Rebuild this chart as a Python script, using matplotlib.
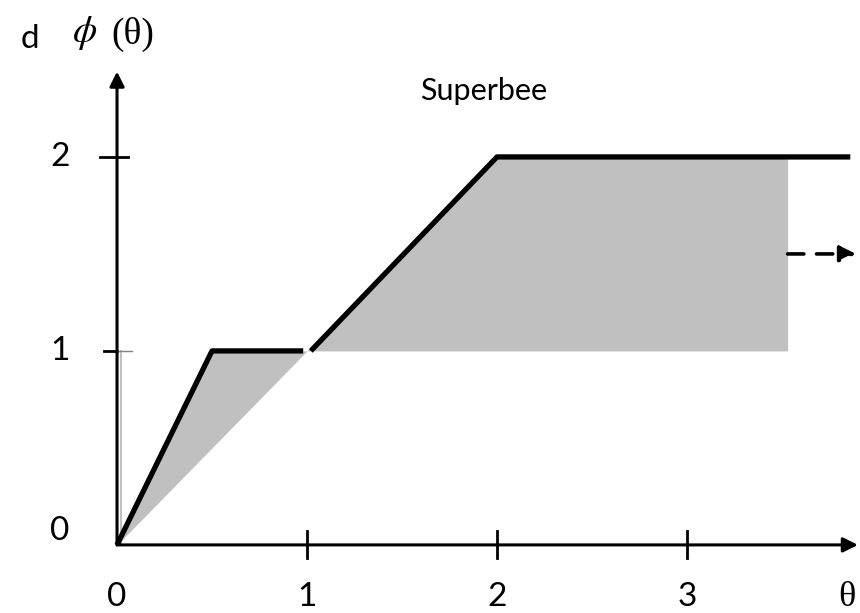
import matplotlib.pyplot as plt
import numpy as np

# superbee limiter, drawn as two pieces with a small gap at theta = 1
theta_a = [0, 0.5, 0.98]
phi_a = [0, 1, 1]
theta_b = [1.02, 2, 3.86]
phi_b = [1, 2, 2]

# shaded TVD region: between lower bound and superbee
shade_theta = [0, 0.5, 1, 2, 3.53]
shade_low = [0, 0.5, 1, 1, 1]
shade_high = [0, 1, 1, 2, 2]

xticks = [1, 2, 3]
xlabels = ['0', '1', '2', '3']
ylabels = ['0', '1', '2']

plt.rcParams['mathtext.fontset'] = 'stix'

fig = plt.figure(figsize=(8.6, 6.13), dpi=100)
ax = fig.add_axes([0, 0, 1, 1])
ax.set_xlim(-0.616, 3.911)
ax.set_ylim(-0.351, 2.809)
ax.axis('off')

ax.fill_between(shade_theta, shade_low, shade_high, color='#c0c0c0', lw=0)
ax.plot([0.02, 0.02], [0, 1], color='#c0c0c0', lw=1.5)

# axes with arrow heads
ax.annotate('', xy=(3.90, 0), xytext=(0, 0), annotation_clip=False,
            arrowprops=dict(arrowstyle='-|>', color='black', lw=2.2, mutation_scale=22,
                            shrinkA=0, shrinkB=0))
ax.annotate('', xy=(0, 2.44), xytext=(0, 0), annotation_clip=False,
            arrowprops=dict(arrowstyle='-|>', color='black', lw=2.2, mutation_scale=22,
                            shrinkA=0, shrinkB=0))

ax.plot(theta_a, phi_a, color='black', lw=3.8, solid_capstyle='butt')
ax.plot(theta_b, phi_b, color='black', lw=3.8, solid_capstyle='butt')

# ticks
for t in xticks:
    ax.plot([t, t], [-0.07, 0.07], color='black', lw=2)
ax.plot([-0.09, 0.06], [2, 2], color='black', lw=2)
ax.plot([-0.07, 0], [1, 1], color='black', lw=2)
ax.plot([0, 0.08], [1, 1], color='#808080', lw=1)

# dashed arrow pointing right at phi = 1.5
ax.annotate('', xy=(3.89, 1.5), xytext=(3.53, 1.5), annotation_clip=False,
            arrowprops=dict(arrowstyle='-|>', color='black', lw=2.6, ls=(0, (4.5, 3.5)),
                            mutation_scale=24, shrinkA=0, shrinkB=0))

font = ['Lato', 'DejaVu Sans']
for i, lab in enumerate(xlabels):
    ax.text(i, -0.27, lab, ha='center', va='center', fontsize=24, family=font)
for i, lab in enumerate(ylabels):
    ax.text(-0.30, i + (0.07 if i == 0 else 0), lab, ha='center', va='center',
            fontsize=24, family=font)
ax.text(3.84, -0.27, '\u03b8', ha='center', va='center', fontsize=26,
        family='Liberation Serif')
ax.text(1.93, 2.34, 'Superbee', ha='center', va='center', fontsize=22, family=font)
ax.text(-0.46, 2.61, 'd', ha='center', va='center', fontsize=24, family=font)
ax.text(-0.17, 2.64, r'$\phi$', ha='center', va='center', fontsize=28)
ax.text(0.085, 2.63, '(\u03b8)', ha='center', va='center', fontsize=27,
        family='Liberation Serif')

fig.savefig('out.png', dpi=100)
